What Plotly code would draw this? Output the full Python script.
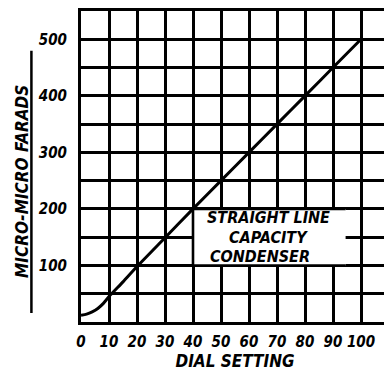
import plotly.graph_objects as go

# dial setting vs capacity (micro-micro farads)
DIAL = [0, 2, 4, 6, 8, 10, 15, 20, 30, 40, 50, 60, 70, 80, 90, 100]
MMF = [12, 14, 18, 24, 33, 45, 71, 98, 149, 200, 250, 300, 350, 400, 450, 500]

X_TICKS = [0, 10, 20, 30, 40, 50, 60, 70, 80, 90, 100]
Y_TICKS = [100, 200, 300, 400, 500]

LABEL_LINES = ["STRAIGHT LINE", "CAPACITY", "CONDENSER"]

FONT = "Liberation Sans Narrow, DejaVu Sans Condensed, Arial"
INK = "black"
GRID_W = 2.6

fig = go.Figure()
fig.add_trace(go.Scatter(
    x=DIAL, y=MMF, mode="lines",
    line=dict(color=INK, width=3, shape="spline", smoothing=0.6),
    showlegend=False, hoverinfo="x+y",
))

# white label box that hides the grid behind the caption
fig.add_shape(type="rect", xref="x", yref="y", x0=40, x1=94.5, y0=100, y1=200,
              fillcolor="white", line=dict(color=INK, width=0), layer="above")
fig.add_shape(type="line", xref="x", yref="y", x0=40, x1=94.5, y0=200, y1=200,
              line=dict(color=INK, width=GRID_W), layer="above")
fig.add_shape(type="line", xref="x", yref="y", x0=40, x1=94.5, y0=100, y1=100,
              line=dict(color=INK, width=GRID_W), layer="above")
fig.add_shape(type="line", xref="x", yref="y", x0=40, x1=40, y0=100, y1=200,
              line=dict(color=INK, width=GRID_W), layer="above")

# caption lines sit tighter than plotly's own <br> spacing
for text, cx, cy in zip(LABEL_LINES, [67, 67, 64], [185, 150, 115]):
    fig.add_annotation(x=cx, y=cy, xref="x", yref="y", text=text, showarrow=False,
                       borderpad=0,
                       font=dict(family=FONT, size=16, color=INK, weight="bold", style="italic"))

# y title with its rule
fig.add_annotation(x=-0.19, y=0.452, xref="paper", yref="paper",
                   xanchor="center", yanchor="middle",
                   text="MICRO-MICRO FARADS", textangle=-90, showarrow=False,
                   font=dict(family=FONT, size=17, color=INK, weight="bold", style="italic"))
fig.add_shape(type="line", xref="paper", yref="paper", x0=-0.161, x1=-0.161,
              y0=0.029, y1=0.872, line=dict(color=INK, width=2.5))

axis_font = dict(family=FONT, size=15, color=INK, weight="bold", style="italic")

fig.update_xaxes(
    range=[0, 110], tickvals=X_TICKS, ticktext=[str(v) for v in X_TICKS],
    showgrid=True, gridcolor=INK, gridwidth=GRID_W,
    minor=dict(dtick=10, tick0=0, showgrid=True, gridcolor=INK, gridwidth=GRID_W),
    zeroline=True, zerolinecolor=INK, zerolinewidth=3,
    showline=True, mirror=True, linecolor=INK, linewidth=3,
    ticks="outside", ticklen=4, tickcolor="rgba(0,0,0,0)",
    tickfont=axis_font,
    title=dict(text="DIAL SETTING", standoff=4,
               font=dict(family=FONT, size=17, color=INK, weight="bold", style="italic")),
    fixedrange=True,
)
fig.update_yaxes(
    range=[0, 550], tickvals=Y_TICKS, ticktext=[str(v) for v in Y_TICKS],
    showgrid=True, gridcolor=INK, gridwidth=GRID_W,
    minor=dict(dtick=50, tick0=0, showgrid=True, gridcolor=INK, gridwidth=GRID_W),
    zeroline=True, zerolinecolor=INK, zerolinewidth=3,
    showline=True, mirror=True, linecolor=INK, linewidth=3,
    ticks="outside", ticklen=8, tickcolor="rgba(0,0,0,0)",
    tickfont=axis_font,
    fixedrange=True,
)

# the page body adds an 8px margin, so the figure is sized to fill what remains
fig.update_layout(
    width=384, height=363,
    margin=dict(l=73, r=0, t=2, b=49),
    plot_bgcolor="white", paper_bgcolor="white",
    font=dict(family=FONT, color=INK),
)

fig.write_html("out.html")
